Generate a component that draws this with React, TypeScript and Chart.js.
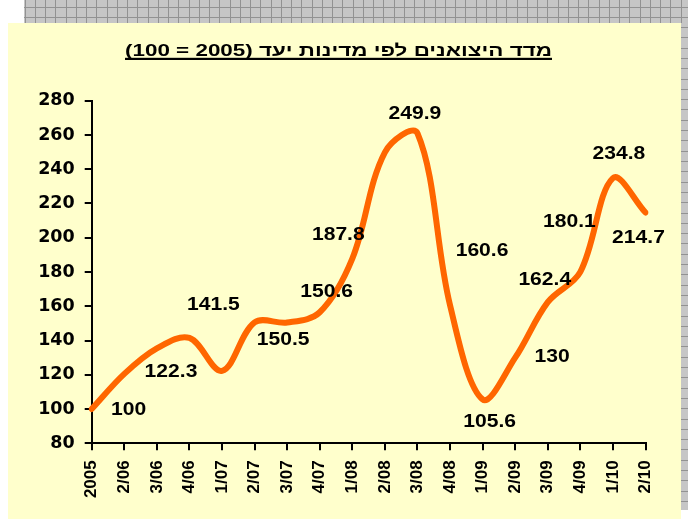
import React, { useEffect, useRef } from "react";
import { Chart, registerables } from "chart.js";

Chart.register(...registerables);

const titleText = "מדד היצואנים לפי מדינות יעד (2005 = 100)";

const categories = [
  "2005", "2/06", "3/06", "4/06", "1/07", "2/07", "3/07", "4/07", "1/08",
  "2/08", "3/08", "4/08", "1/09", "2/09", "3/09", "4/09", "1/10", "2/10",
];

const indexValues = [
  100, 120.5, 135.4, 141.5, 122.3, 150.6, 150.5, 156.5, 187.8,
  249.9, 261, 160.6, 105.6, 130, 162.4, 180.1, 234.8, 214.7,
];

// indices of points that carry a value label
const labeledPoints = [0, 3, 4, 5, 6, 8, 9, 11, 12, 13, 14, 15, 16, 17];

const yMin = 80;
const yMax = 280;
const yStep = 20;

// label placement (pixel offsets from the point), style only
const labelOffsets: Record<number, [number, number]> = {
  0: [37, 0],
  3: [24, -34],
  4: [-51, 0],
  5: [72, -31],
  6: [-4, 16],
  8: [-14, -25],
  9: [30, -39],
  11: [32, -55],
  12: [7, 21],
  13: [37, -2],
  14: [-3, -23],
  15: [-11, -51],
  16: [6, -25],
  17: [-7, 24],
};

const W = 688;
const H = 519;

const backgroundPlugin = {
  id: "bgPanel",
  beforeDraw(chart: any) {
    const ctx = chart.ctx;
    ctx.save();
    ctx.fillStyle = "#ffffff";
    ctx.fillRect(0, 0, W, H);
    // checkered gray strips
    ctx.fillStyle = "#c6c6c6";
    ctx.fillRect(24, 0, W - 24, 23);
    ctx.fillRect(681, 0, 7, 510);
    ctx.strokeStyle = "#929292";
    ctx.lineWidth = 1;
    ctx.beginPath();
    for (let x = 24.5; x < W; x += 10.25) {
      ctx.moveTo(Math.round(x) + 0.5, 0);
      ctx.lineTo(Math.round(x) + 0.5, 23);
    }
    for (let y = 6.5; y < 510; y += 10.3) {
      const yy = Math.round(y) + 0.5;
      if (yy < 23) {
        ctx.moveTo(24, yy);
        ctx.lineTo(W, yy);
      } else {
        ctx.moveTo(681, yy);
        ctx.lineTo(W, yy);
      }
    }
    ctx.stroke();
    // yellow panel
    ctx.fillStyle = "#FFFFCC";
    ctx.fillRect(8, 23, 673, H - 23);
    // title (underlined, slightly stretched like the original)
    ctx.fillStyle = "#000";
    ctx.font = 'bold 16.5px "Liberation Sans"';
    ctx.textAlign = "center";
    ctx.textBaseline = "alphabetic";
    (ctx as any).direction = "rtl";
    const cx = 338.5;
    const tw = ctx.measureText(titleText).width;
    const sx = 427 / tw;
    ctx.save();
    ctx.translate(cx, 56);
    ctx.scale(sx, 1);
    ctx.fillText(titleText, 0, 0);
    ctx.restore();
    ctx.fillRect(cx - 427 / 2, 57.8, 427, 2.2);
    ctx.restore();
  },
};

const valueLabelPlugin = {
  id: "valueLabels",
  afterDatasetsDraw(chart: any) {
    const ctx = chart.ctx;
    const meta = chart.getDatasetMeta(0);
    ctx.save();
    ctx.fillStyle = "#000";
    ctx.font = 'bold 18.5px "Liberation Sans"';
    ctx.textAlign = "center";
    ctx.textBaseline = "middle";
    labeledPoints.forEach((i) => {
      const pt = meta.data[i];
      const off = labelOffsets[i] || [0, -20];
      ctx.save();
      ctx.translate(pt.x + off[0], pt.y + off[1] + 1);
      ctx.scale(1.14, 1);
      ctx.fillText(String(indexValues[i]), 0, 0);
      ctx.restore();
    });
    ctx.restore();
  },
};

export default function App() {
  const canvasRef = useRef<HTMLCanvasElement | null>(null);

  useEffect(() => {
    if (!canvasRef.current) return;
    const chart = new Chart(canvasRef.current, {
      type: "line",
      data: {
        labels: categories,
        datasets: [
          {
            data: indexValues,
            borderColor: "#FF6600",
            backgroundColor: "#FF6600",
            borderWidth: 6,
            borderCapStyle: "round",
            borderJoinStyle: "round",
            pointRadius: 0,
            pointHoverRadius: 0,
            tension: 0.35,
            fill: false,
          },
        ],
      },
      options: {
        responsive: false,
        animation: false,
        devicePixelRatio: 1,
        layout: { padding: { top: 100.7, left: 0, right: 42.5, bottom: 0 } },
        plugins: {
          legend: { display: false },
          title: { display: false },
          tooltip: { enabled: false },
        },
        events: [],
        scales: {
          x: {
            type: "category",
            offset: false,
            grid: {
              display: true,
              drawOnChartArea: false,
              drawTicks: true,
              tickLength: 7,
              color: "#000",
              lineWidth: 2,
            },
            border: { display: true, color: "#000", width: 2 },
            ticks: {
              color: "#000",
              font: { family: "Liberation Sans", weight: "bold", size: 17 },
              maxRotation: 90,
              minRotation: 90,
              autoSkip: false,
              padding: 10,
            },
            afterFit: (s: any) => {
              s.height = H - 443.3;
            },
          },
          y: {
            min: yMin,
            max: yMax,
            grid: {
              display: true,
              drawOnChartArea: false,
              drawTicks: true,
              tickLength: 7,
              color: "#000",
              lineWidth: 2,
            },
            border: { display: true, color: "#000", width: 2 },
            ticks: {
              stepSize: yStep,
              color: "#000",
              font: { family: "DejaVu Sans", weight: "bold", size: 17.5 },
              padding: 10,
            },
            afterFit: (s: any) => {
              s.width = 91.7;
            },
          },
        },
      },
      plugins: [backgroundPlugin, valueLabelPlugin],
    });
    return () => chart.destroy();
  }, []);

  return (
    <div style={{ position: "absolute", left: 0, top: 0, width: W, height: H }}>
      <canvas ref={canvasRef} width={W} height={H} style={{ display: "block" }} />
    </div>
  );
}
